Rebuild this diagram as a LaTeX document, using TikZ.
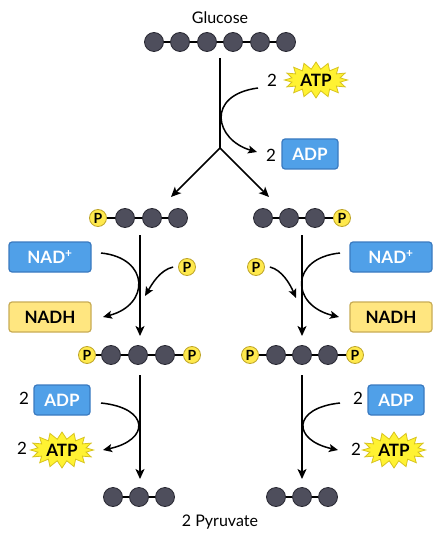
\documentclass[tikz,border=0pt]{standalone}
\usepackage{fontspec}
\setmainfont{Lato}
\usepackage{xcolor}
\usetikzlibrary{arrows.meta, shapes.symbols}

\definecolor{beadgray}{RGB}{78,78,92}
\definecolor{beadline}{RGB}{40,40,50}
\definecolor{pyellow}{RGB}{255,233,77}
\definecolor{pline}{RGB}{190,165,40}
\definecolor{bluefill}{RGB}{80,160,232}
\definecolor{blueline}{RGB}{58,122,192}
\definecolor{nadhfill}{RGB}{255,230,128}
\definecolor{nadhline}{RGB}{200,172,85}
\definecolor{atpfill}{RGB}{255,242,50}
\definecolor{atpline}{RGB}{215,195,30}

\begin{document}
\begin{tikzpicture}[x=1pt, y=-1pt,
    bead/.style={circle, draw=beadline, fill=beadgray, line width=0.8pt, minimum size=19pt, inner sep=0pt},
    pgrp/.style={circle, draw=pline, fill=pyellow, line width=0.8pt, minimum size=17pt, inner sep=0pt, font=\bfseries\fontsize{14}{14}\selectfont},
    bond/.style={line width=1.4pt},
    bluebox/.style={draw=blueline, fill=bluefill, rounded corners=3pt, line width=1.2pt, minimum width=#1, minimum height=30pt, text=white, font=\bfseries\fontsize{17}{17}\selectfont},
    nadhbox/.style={draw=nadhline, fill=nadhfill, rounded corners=3pt, line width=1.2pt, minimum width=82pt, minimum height=30pt, font=\bfseries\fontsize{17}{17}\selectfont},
    atpstar/.style={starburst, starburst points=16, starburst point height=7pt, random starburst=0, draw=atpline, fill=atpfill, line width=0.8pt, minimum width=63pt, minimum height=36pt, inner sep=0.5pt, font=\bfseries\fontsize{17}{17}\selectfont},
    num/.style={font=\fontsize{17}{17}\selectfont},
    lbl/.style={font=\fontsize{16}{16}\selectfont},
    arr/.style={-{Stealth[length=10pt, width=9pt, inset=2.5pt]}, line width=1.5pt},
    carr/.style={-{Stealth[length=9pt, width=8pt, inset=2pt]}, line width=1.5pt}
]
    \useasboundingbox (0,0) rectangle (440,545);

    % glucose
    \node[lbl] (glu) at (220,18) {Glucose};
    \foreach \x [count=\i] in {154,180,207,233,260,286}
        \node[bead] (g\i) at (\x,42) {};
    \draw[bond] (g1) -- (g2) -- (g3) -- (g4) -- (g5) -- (g6);

    \coordinate (gtop)  at (220,58);
    \coordinate (fork)  at (220,148);
    \coordinate (forkL) at (171,197);
    \coordinate (forkR) at (269,197);
    \draw[line width=1.5pt] (gtop) -- (fork);
    \draw[arr] (fork) -- (forkL);
    \draw[arr] (fork) -- (forkR);

    \node[num] (n1) at (272,80) {2};
    \node[atpstar] (atp1) at (316,80) {ATP};
    \node[num] (n2) at (271,155) {2};
    \node[bluebox=56pt] (adp1) at (310,154) {ADP};
    \coordinate (c1s) at (258,88);
    \coordinate (c1e) at (257,152);
    \draw[carr] (c1s) .. controls (205,95) and (215,140) .. (c1e);

    % left branch, step 1
    \node[pgrp] (pA) at (98,218) {P};
    \foreach \x [count=\i] in {125,152,178}
        \node[bead] (a\i) at (\x,218) {};
    \draw[bond] (pA) -- (a1) -- (a2) -- (a3);

    \node[bluebox=82pt] (nadL) at (50,257) {NAD\textsuperscript{+}};
    \node[nadhbox] (nadhL) at (50,317) {NADH};
    \node[pgrp] (pfL) at (187,267) {P};
    \coordinate (vL1) at (140,235);
    \coordinate (vL2) at (140,336);
    \draw[arr] (vL1) -- (vL2);
    \coordinate (cLs) at (101,253);
    \coordinate (cLe) at (103,317);
    \draw[carr] (cLs) .. controls (150,258) and (150,305) .. (cLe);
    \coordinate (pLe) at (145,296);
    \draw[carr] ([xshift=-5pt]pfL.west) .. controls (160,270) and (152,284) .. (pLe);

    % right branch, step 1
    \foreach \x [count=\i] in {263,289,315}
        \node[bead] (b\i) at (\x,218) {};
    \node[pgrp] (pB) at (342,218) {P};
    \draw[bond] (b1) -- (b2) -- (b3) -- (pB);

    \node[bluebox=82pt] (nadR) at (391,257) {NAD\textsuperscript{+}};
    \node[nadhbox] (nadhR) at (391,317) {NADH};
    \node[pgrp] (pfR) at (256,267) {P};
    \coordinate (vR1) at (302,235);
    \coordinate (vR2) at (302,336);
    \draw[arr] (vR1) -- (vR2);
    \coordinate (cRs) at (340,253);
    \coordinate (cRe) at (339,317);
    \draw[carr] (cRs) .. controls (290,258) and (290,305) .. (cRe);
    \coordinate (pRe) at (296,298);
    \draw[carr] ([xshift=5pt]pfR.east) .. controls (282,270) and (290,284) .. (pRe);

    % bisphosphate chains
    \node[pgrp] (pC1) at (87,355) {P};
    \foreach \x [count=\i] in {111,138,165}
        \node[bead] (c\i) at (\x,355) {};
    \node[pgrp] (pC2) at (192,355) {P};
    \draw[bond] (pC1) -- (c1) -- (c2) -- (c3) -- (pC2);

    \node[pgrp] (pD1) at (250,355) {P};
    \foreach \x [count=\i] in {276,302,328}
        \node[bead] (d\i) at (\x,355) {};
    \node[pgrp] (pD2) at (355,355) {P};
    \draw[bond] (pD1) -- (d1) -- (d2) -- (d3) -- (pD2);

    % left branch, step 2
    \node[num] (n3) at (24,398) {2};
    \node[bluebox=56pt] (adpL) at (62,400) {ADP};
    \node[num] (n4) at (22,448) {2};
    \node[atpstar] (atpL) at (62,450) {ATP};
    \coordinate (wL1) at (140,375);
    \coordinate (wL2) at (140,479);
    \draw[arr] (wL1) -- (wL2);
    \coordinate (dLs) at (101,403);
    \coordinate (dLe) at (103,450);
    \draw[carr] (dLs) .. controls (150,408) and (150,440) .. (dLe);

    % right branch, step 2
    \node[num] (n5) at (358,398) {2};
    \node[bluebox=56pt] (adpR) at (396,400) {ADP};
    \node[num] (n6) at (356,449) {2};
    \node[atpstar] (atpR) at (394,450) {ATP};
    \coordinate (wR1) at (302,375);
    \coordinate (wR2) at (302,479);
    \draw[arr] (wR1) -- (wR2);
    \coordinate (dRs) at (340,403);
    \coordinate (dRe) at (338,450);
    \draw[carr] (dRs) .. controls (292,408) and (292,440) .. (dRe);

    % pyruvate
    \foreach \x [count=\i] in {113,139,165}
        \node[bead] (e\i) at (\x,497) {};
    \draw[bond] (e1) -- (e2) -- (e3);
    \foreach \x [count=\i] in {276,302,328}
        \node[bead] (f\i) at (\x,497) {};
    \draw[bond] (f1) -- (f2) -- (f3);
    \node[lbl] (pyr) at (220,522) {2 Pyruvate};
\end{tikzpicture}
\end{document}
